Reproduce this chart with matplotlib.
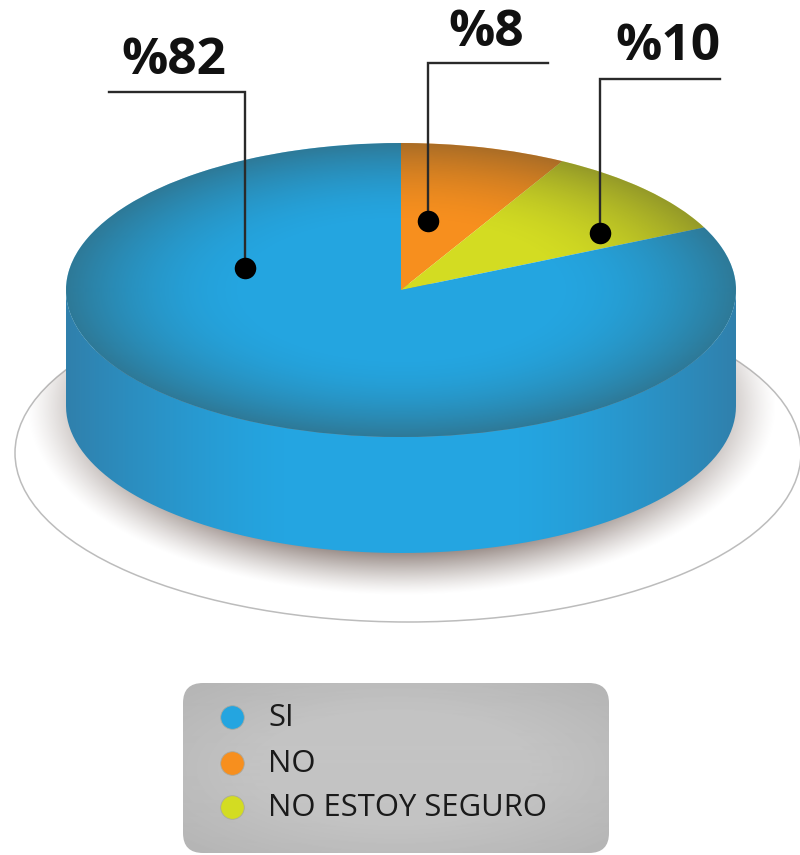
import numpy as np
import matplotlib
matplotlib.use("Agg")
import matplotlib.pyplot as plt
from matplotlib.patches import Ellipse, FancyBboxPatch, PathPatch
from matplotlib.path import Path

categories = ["SI", "NO", "NO ESTOY SEGURO"]
values = [82, 8, 10]
value_labels = ["%82", "%8", "%10"]
colors = ["#24a5e0", "#f78f1e", "#d3dc22"]

W, H = 800, 855
cx, cy, rx, ry = 401, 290, 335, 147
depth = 116

plt.rcParams['font.family'] = ['Open Sans', 'DejaVu Sans']

fig = plt.figure(figsize=(W / 100, H / 100), dpi=100)


def pixel_axes(z):
    a = fig.add_axes([0, 0, 1, 1], zorder=z)
    a.set_xlim(0, W)
    a.set_ylim(H, 0)
    a.axis("off")
    a.patch.set_alpha(0)
    return a


back = pixel_axes(1)
yy, xx = np.mgrid[0:H, 0:W]

# base plate and its soft shadow
plate = Ellipse((408, 453), 786, 338, fc="white", ec="#bcbcbc", lw=1.1, zorder=1)
back.add_patch(plate)
d = np.sqrt(((xx - cx) / (rx + 40)) ** 2 + ((yy - (cy + depth)) / (ry + 42)) ** 2)
shade = np.zeros((H, W, 4))
shade[..., :3] = np.array([150, 137, 132]) / 255
shade[..., 3] = 0.95 * np.clip((1 - d) / 0.22, 0, 1) ** 1.25
im = back.imshow(shade, extent=(0, W, H, 0), zorder=2, aspect="auto", interpolation="bilinear")
im.set_clip_path(plate)

# side wall of the cylinder, darker toward left and right
t = np.linspace(0, 2 * np.pi, 361)
ex, ey = cx + rx * np.cos(t), cy + ry * np.sin(t)
low = t <= np.pi
wall_x = np.r_[ex[low], ex[low][::-1]]
wall_y = np.r_[ey[low] + depth, ey[low][::-1]]
wall_path = Path(np.c_[wall_x, wall_y])
wall_patch = PathPatch(wall_path, fc="none", ec="none", transform=back.transData)
back.add_patch(wall_patch)
u = np.abs((xx[0] - cx) / rx)
k = np.clip((u - 0.35) / 0.65, 0, 1) ** 1.3
base_rgb = np.array([36, 165, 225]) / 255
edge_rgb = np.array([48, 128, 172]) / 255
wall_img = base_rgb + (edge_rgb - base_rgb) * k[:, None]
im = back.imshow(wall_img[None, :, :], extent=(0, W, H, 0), zorder=3, aspect="auto")
im.set_clip_path(wall_patch)
back.set_xlim(0, W)
back.set_ylim(H, 0)

# top face: the pie itself, in an axes stretched to the ellipse box
pie_ax = fig.add_axes([(cx - rx) / W, 1 - (cy + ry) / H, 2 * rx / W, 2 * ry / H], zorder=2)
order = [1, 2, 0]
pie_ax.pie([values[i] for i in order], colors=[colors[i] for i in order], startangle=90,
           counterclock=False, radius=1, wedgeprops={"lw": 0})
pie_ax.set_aspect("auto")
pie_ax.set_xlim(-1, 1)
pie_ax.set_ylim(-1, 1)

front = pixel_axes(3)

# rim shading of the top face
d = np.sqrt(((xx - cx) / rx) ** 2 + ((yy - cy) / ry) ** 2)
rim = np.zeros((H, W, 4))
rim[..., :3] = np.array([60, 60, 50]) / 255
rim[..., 3] = 0.42 * np.clip((d - 0.45) / 0.55, 0, 1) ** 1.8
top = Ellipse((cx, cy), 2 * rx, 2 * ry, fc="none", ec="none")
front.add_patch(top)
im = front.imshow(rim, extent=(0, W, H, 0), zorder=1, aspect="auto", interpolation="bilinear")
im.set_clip_path(top)
front.set_xlim(0, W)
front.set_ylim(H, 0)

# leader lines with dots and value labels
leaders = [
    ((109, 92), (245, 268), (174, 61)),
    ((548, 63), (428, 221), (486, 33)),
    ((720, 79), (600, 233), (668, 47)),
]
for (end, dot, pos), lab in zip(leaders, value_labels):
    front.plot([end[0], dot[0], dot[0]], [end[1], end[1], dot[1]], color="#2a2a2a", lw=1.7,
               solid_joinstyle="miter", zorder=4)
    front.plot(dot[0], dot[1], "o", ms=15.5, color="black", mew=0, zorder=5)
    front.text(pos[0], pos[1], lab, fontsize=37, fontweight="bold", color="#111111",
               ha="center", va="center", zorder=5)

# legend box
bx, by, bw, bh = 183, 683, 426, 170
box = FancyBboxPatch((bx + 20, by + 20), bw - 40, bh - 40, boxstyle="round,pad=20,rounding_size=20",
                     fc="none", ec="none", zorder=6)
front.add_patch(box)
du = (xx - (bx + bw / 2)) / (bw / 2)
dv = (yy - (by + bh / 2)) / (bh / 2)
grey = (196 - 16 * np.clip(np.sqrt(du ** 2 + dv ** 2) - 0.6, 0, 0.8) / 0.8) / 255
im = front.imshow(grey, extent=(0, W, H, 0), cmap="gray", vmin=0, vmax=1, zorder=6, aspect="auto",
                  interpolation="bilinear")
im.set_clip_path(box)
front.set_xlim(0, W)
front.set_ylim(H, 0)

legend_y = [717, 763, 807]
for name, col, y in zip(categories, colors, legend_y):
    front.plot(232, y, "o", ms=17, color=col, mec="#a9a9a0", mew=0.6, zorder=7)
    front.text(268, y + 0.5, name, fontsize=22.3, color="#1a1a1a", ha="left", va="center", zorder=7)

fig.savefig("out.png", dpi=100, facecolor="white")
